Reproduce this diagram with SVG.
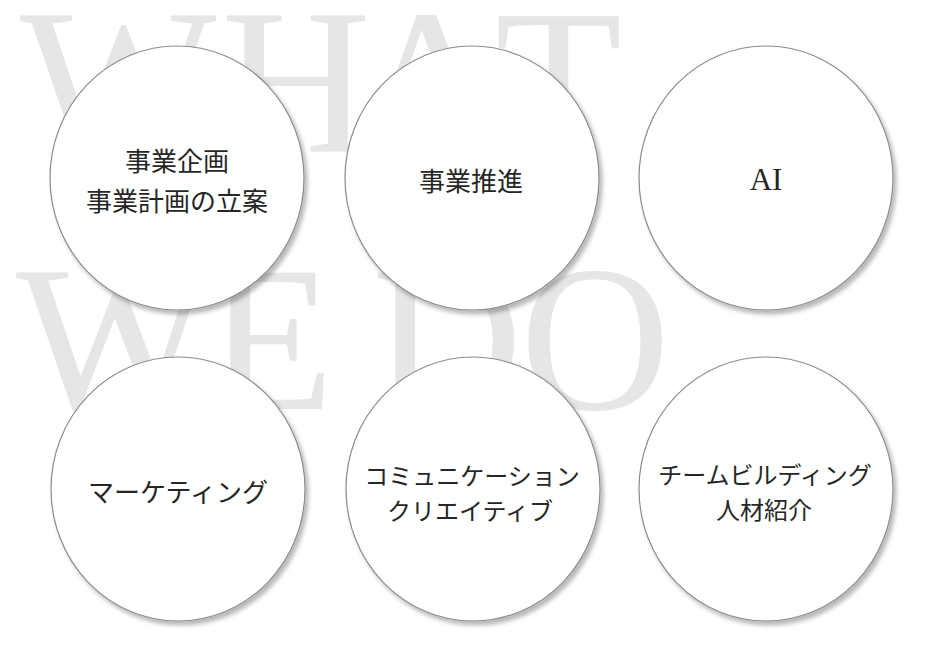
<svg xmlns="http://www.w3.org/2000/svg" width="950" height="650" viewBox="0 0 950 650">
  <defs>
    <filter id="shadow" x="-10%" y="-10%" width="125%" height="125%">
      <feDropShadow dx="3" dy="4" stdDeviation="2" flood-color="#000" flood-opacity="0.28"/>
    </filter>
  </defs>
  <style>
    .bg { font-family: "Liberation Serif", "DejaVu Serif", serif; font-size: 208px; fill: #e6e6e6; }
    .node { fill: #ffffff; stroke: #8c8c8c; stroke-width: 1.2; filter: url(#shadow); }
    .label { font-family: "Liberation Serif", "Noto Sans CJK JP", serif; fill: #262626; text-anchor: middle; }
    .l26 { font-size: 26px; }
    .l24 { font-size: 24px; }
    .l31 { font-size: 31px; }
  </style>
  <rect width="950" height="650" fill="#ffffff"/>
  <g id="background-text">
    <text class="bg" y="152"><tspan x="20">W</tspan><tspan x="221">H</tspan><tspan x="353">A</tspan><tspan x="495">T</tspan></text>
    <text class="bg" y="409"><tspan x="16">W</tspan><tspan x="207">E</tspan><tspan x="372">D</tspan><tspan x="520">O</tspan></text>
  </g>
  <g id="connectors"></g>
  <g id="node-planning">
    <ellipse class="node" cx="177" cy="178" rx="127" ry="132"/>
    <text class="label l26" x="177" y="171">事業企画</text>
    <text class="label l26" x="177" y="211">事業計画の立案</text>
  </g>
  <g id="node-promotion">
    <ellipse class="node" cx="472" cy="178" rx="127" ry="132"/>
    <text class="label l26" x="471" y="191">事業推進</text>
  </g>
  <g id="node-ai">
    <ellipse class="node" cx="766" cy="178" rx="127" ry="132"/>
    <text class="label l31" x="766" y="190">AI</text>
  </g>
  <g id="node-marketing">
    <ellipse class="node" cx="178" cy="489" rx="127" ry="132"/>
    <text class="label l26" x="178" y="502">マーケティング</text>
  </g>
  <g id="node-communication">
    <ellipse class="node" cx="473" cy="489" rx="127" ry="132"/>
    <text class="label l24" x="472" y="485">コミュニケーション</text>
    <text class="label l24" x="470" y="520">クリエイティブ</text>
  </g>
  <g id="node-teambuilding">
    <ellipse class="node" cx="766" cy="489" rx="127" ry="132"/>
    <text class="label l24" x="765" y="484">チームビルディング</text>
    <text class="label l24" x="764" y="519">人材紹介</text>
  </g>
</svg>
